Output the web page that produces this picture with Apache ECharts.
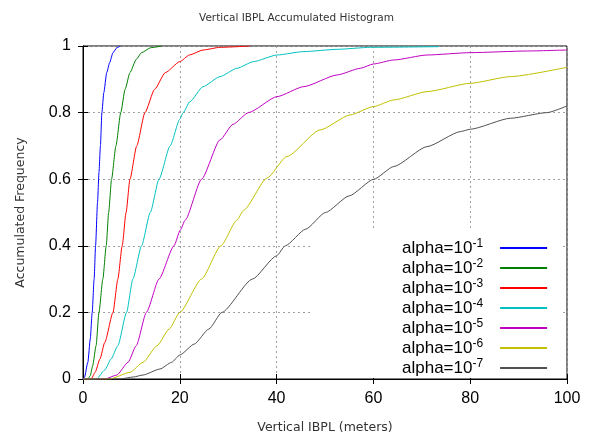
<!DOCTYPE html>
<html>
<head>
<meta charset="utf-8">
<script src="https://cdn.jsdelivr.net/npm/echarts@6/dist/echarts.min.js"></script>
<style>
  html, body { margin: 0; padding: 0; background: #fff; }
  #chart { width: 593px; height: 439px; }
</style>
</head>
<body>
<div id="chart"></div>
<script>
  // accumulated histogram curves, [meters, frequency]
  var alpha1 = [[0, 0], [0.3, 0.005], [1, 0.05], [1.5, 0.12], [1.9, 0.2], [2.3, 0.3], [2.6, 0.4], [3, 0.53], [3.3, 0.62], [3.6, 0.7], [3.9, 0.8], [4.3, 0.86], [4.9, 0.92], [5.5, 0.95], [6.2, 0.98], [7, 0.995], [7.7, 1]]
  var alpha2 = [[0, 0], [1, 0], [1.5, 0.01], [2, 0.04], [2.7, 0.1], [3.3, 0.2], [4.1, 0.3], [4.8, 0.4], [5.3, 0.5], [5.9, 0.6], [6.8, 0.7], [7.8, 0.8], [8.7, 0.87], [9.7, 0.92], [11, 0.96], [12.1, 0.98], [14, 0.995], [16.3, 1]]
  var alpha3 = [[0, 0], [1.7, 0], [2.5, 0.02], [3.5, 0.06], [4.5, 0.11], [6.2, 0.2], [7.2, 0.3], [8.1, 0.4], [8.9, 0.5], [9.7, 0.6], [11.1, 0.7], [12.8, 0.8], [14.8, 0.87], [17, 0.92], [20, 0.953], [22, 0.973], [24.8, 0.988], [28.3, 0.996], [34.5, 1]]
  var alpha4 = [[0, 0], [2.8, 0], [4.5, 0.027], [5.8, 0.06], [7.2, 0.1], [9, 0.2], [10.3, 0.3], [12.1, 0.4], [13.9, 0.5], [15.7, 0.6], [18, 0.7], [20, 0.78], [20.7, 0.8], [22.1, 0.833], [24.8, 0.878], [28.3, 0.908], [31.8, 0.933], [35.2, 0.953], [40.1, 0.973], [45.5, 0.983], [52.5, 0.99], [59.4, 0.996], [73.5, 0.998]]
  var alpha5 = [[0, 0], [4.5, 0], [7, 0.012], [9.3, 0.05], [11, 0.1], [13.1, 0.2], [15.7, 0.3], [18.8, 0.4], [20.1, 0.447], [21.1, 0.477], [24.5, 0.6], [28.3, 0.718], [31, 0.765], [34.2, 0.8], [40.1, 0.848], [45.6, 0.878], [52.5, 0.913], [57.3, 0.933], [60, 0.946], [64.2, 0.958], [71.1, 0.973], [80, 0.98], [91.8, 0.985], [100, 0.988]]
  var alpha6 = [[0, 0], [5.5, 0], [9.7, 0.02], [12.4, 0.05], [15.3, 0.1], [17.8, 0.15], [20, 0.2], [24.5, 0.3], [28.5, 0.4], [31.8, 0.477], [33.2, 0.507], [38, 0.603], [42.1, 0.668], [49, 0.748], [55.2, 0.793], [60, 0.818], [64.2, 0.838], [71.1, 0.863], [80, 0.888], [88.3, 0.908], [100, 0.936]]
  var alpha7 = [[0, 0], [7.6, 0], [10.4, 0.006], [12.4, 0.012], [15.9, 0.03], [18.3, 0.05], [20, 0.072], [23, 0.105], [26, 0.15], [28.7, 0.2], [35, 0.3], [40, 0.37], [41.8, 0.4], [46, 0.45], [50.1, 0.5], [55, 0.55], [60.1, 0.6], [64.2, 0.638], [71.1, 0.698], [78, 0.743], [80, 0.75], [88.3, 0.783], [95.9, 0.8], [100, 0.82]]

  var curves = [alpha1, alpha2, alpha3, alpha4, alpha5, alpha6, alpha7]
  var exponents = ['-1', '-2', '-3', '-4', '-5', '-6', '-7']
  var colors = ['#0000ff', '#008000', '#ff0000', '#00c0c0', '#c000c0', '#c0c000', '#505050']

  var tickFont = 'Liberation Sans, Arial, sans-serif'
  var smallFont = 'DejaVu Sans, sans-serif'

  var series = curves.map(function (data, i) {
    return {
      name: 'alpha=10^' + exponents[i],
      type: 'line',
      data: data,
      showSymbol: false,
      symbol: 'none',
      smooth: 0.2,
      smoothMonotone: 'x',
      color: colors[i],
      lineStyle: { width: 1, color: colors[i] },
      emphasis: { disabled: true }
    }
  })

  var chart = echarts.init(document.getElementById('chart'))
  chart.setOption({
    backgroundColor: '#fff',
    animation: false,
    title: {
      text: 'Vertical IBPL Accumulated Histogram',
      left: 'center',
      top: 8,
      textStyle: { fontFamily: smallFont, fontSize: 10.5, fontWeight: 'normal', color: '#333' }
    },
    legend: {
      orient: 'vertical',
      left: 310,
      top: 229,
      padding: [9, 14, 0, 92],
      align: 'right',
      icon: 'rect',
      itemWidth: 47,
      itemHeight: 2,
      itemGap: 0,
      selectedMode: false,
      backgroundColor: '#fff',
      formatter: function (name) {
        return name.replace(/\^(-\d+)/, '{sup|$1}{gap|}')
      },
      textStyle: {
        fontFamily: tickFont,
        fontSize: 17,
        color: '#000',
        lineHeight: 20,
        rich: {
          sup: { fontFamily: tickFont, fontSize: 12, verticalAlign: 'top', lineHeight: 11, color: '#000' },
          gap: { width: 12 }
        }
      },
      data: series.map(function (s) { return s.name })
    },
    grid: {
      left: 83,
      right: 26,
      top: 46,
      bottom: 60,
      show: true,
      borderColor: '#000',
      borderWidth: 1
    },
    xAxis: [{
      type: 'value',
      min: 0,
      max: 100,
      interval: 20,
      position: 'bottom',
      name: 'Vertical IBPL (meters)',
      nameLocation: 'middle',
      nameGap: 42,
      nameTextStyle: { fontFamily: smallFont, fontSize: 12.5, color: '#333' },
      axisLine: { show: true, lineStyle: { color: '#000' } },
      axisTick: { inside: true, length: 5, lineStyle: { color: '#000' } },
      axisLabel: { fontFamily: tickFont, fontSize: 16, color: '#000', margin: 12 },
      splitLine: { show: true, lineStyle: { color: '#a0a0a0', type: [2, 3] } }
    }, {
      type: 'value',
      min: 0,
      max: 100,
      interval: 20,
      position: 'top',
      axisLine: { show: true, lineStyle: { color: '#000' } },
      axisTick: { inside: true, length: 5, lineStyle: { color: '#000' } },
      axisLabel: { show: false },
      splitLine: { show: false }
    }],
    yAxis: [{
      type: 'value',
      min: 0,
      max: 1,
      interval: 0.2,
      position: 'left',
      name: 'Accumulated Frequency',
      nameLocation: 'middle',
      nameGap: 56,
      nameTextStyle: { fontFamily: smallFont, fontSize: 12.5, color: '#333' },
      axisLine: { show: true, lineStyle: { color: '#000' } },
      axisTick: { show: true, inside: true, length: 5, lineStyle: { color: '#000' } },
      axisLabel: { fontFamily: tickFont, fontSize: 16, color: '#000', margin: 12 },
      splitLine: { show: true, lineStyle: { color: '#a0a0a0', type: [2, 3] } }
    }, {
      type: 'value',
      min: 0,
      max: 1,
      interval: 0.2,
      position: 'right',
      axisLine: { show: true, lineStyle: { color: '#000' } },
      axisTick: { show: true, inside: true, length: 5, lineStyle: { color: '#000' } },
      axisLabel: { show: false },
      splitLine: { show: false }
    }],
    series: series
  })
</script>
</body>
</html>
